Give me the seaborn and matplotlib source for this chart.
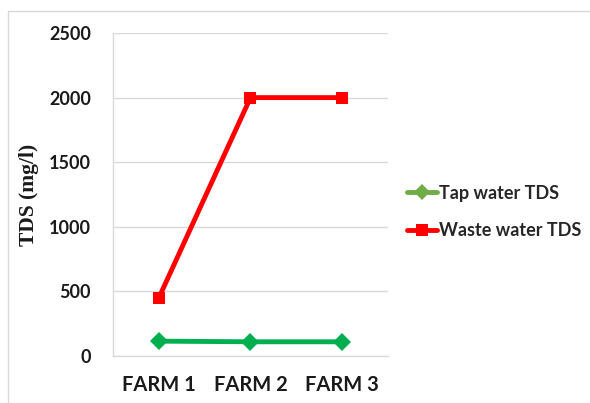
import pandas as pd
import seaborn as sns
import matplotlib.pyplot as plt
from matplotlib.lines import Line2D

# Data
farms = ['FARM 1', 'FARM 2', 'FARM 3']
tap_tds = [115, 110, 110]
waste_tds = [450, 2000, 2000]
series_names = ['Tap water TDS', 'Waste water TDS']

df = pd.DataFrame({
    'farm': farms * 2,
    'tds': tap_tds + waste_tds,
    'series': [series_names[0]] * 3 + [series_names[1]] * 3,
})

sns.set_style('white')
plt.rcParams['font.family'] = ['Lato', 'DejaVu Sans']

fig = plt.figure(figsize=(5.9, 4.03), dpi=100)
ax = fig.add_axes([113 / 590, 1 - 356 / 403, 275 / 590, 323 / 403])

palette = {series_names[0]: '#00b050', series_names[1]: '#ff0000'}
sns.lineplot(data=df, x='farm', y='tds', hue='series', style='series',
             markers={series_names[0]: 'D', series_names[1]: 's'},
             dashes=False, palette=palette, linewidth=3.5, markersize=9,
             markeredgewidth=0, ax=ax, legend=False, sort=False)

ax.set_xlim(-0.5, 2.5)
ax.set_ylim(0, 2500)
ax.set_yticks([0, 500, 1000, 1500, 2000, 2500])
ax.yaxis.grid(True, color='#d9d9d9', linewidth=1)
ax.set_axisbelow(True)
for side in ['top', 'right']:
    ax.spines[side].set_visible(False)
for side in ['left', 'bottom']:
    ax.spines[side].set_color('#d9d9d9')
    ax.spines[side].set_linewidth(1)

ax.tick_params(axis='y', length=0, pad=16, labelsize=13)
ax.tick_params(axis='x', length=0, pad=14, labelsize=14.5)
for lbl in ax.get_xticklabels() + ax.get_yticklabels():
    lbl.set_fontweight('bold')
    lbl.set_color('#1a1a1a')

ax.set_xlabel('')
ax.set_ylabel('TDS (mg/l)', family='Liberation Serif', fontweight='bold',
              fontsize=15.5, color='#1a1a1a')
ax.yaxis.set_label_coords(-(113 - 39) / 275, 0.5)

handles = [
    Line2D([], [], color='#70ad47', marker='D', markersize=8, linewidth=3.5,
           markeredgewidth=0),
    Line2D([], [], color='#ff0000', marker='s', markersize=8, linewidth=3.5,
           markeredgewidth=0),
]
fig.legend(handles, series_names, loc='center left',
           bbox_to_anchor=(407 / 590, 1 - 212 / 403), frameon=False,
           borderpad=0, borderaxespad=0,
           handlelength=1.65, handletextpad=0.1, labelspacing=1.15,
           prop={'family': 'Lato', 'weight': 'bold', 'size': 13})

# light frame around the chart area
fig.add_artist(Line2D([8 / 590, 1], [1 - 11 / 403, 1 - 11 / 403],
                      color='#d9d9d9', linewidth=1))
fig.add_artist(Line2D([8 / 590, 8 / 590], [0, 1 - 11 / 403],
                      color='#d9d9d9', linewidth=1))

fig.savefig('out.png', dpi=100)
plt.close(fig)
